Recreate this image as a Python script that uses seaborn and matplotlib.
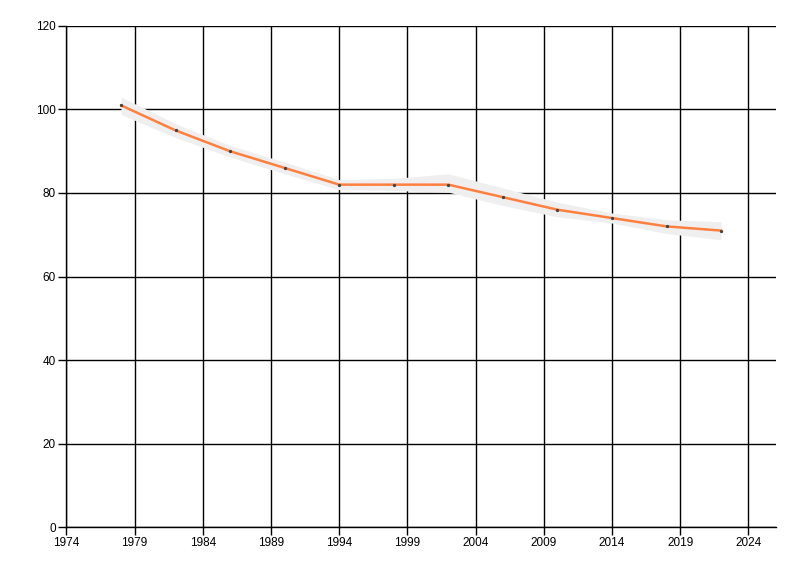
import numpy as np
import pandas as pd
import matplotlib
matplotlib.use("Agg")
import matplotlib.pyplot as plt
import seaborn as sns

# Values
years = [1978, 1982, 1986, 1990, 1994, 1998, 2002, 2006, 2010, 2014, 2018, 2022]
values = [101, 95, 90, 86, 82, 82, 82, 79, 76, 74, 72, 71]
band_low = [98.8, 93.3, 88.6, 84.6, 80.8, 80.6, 80.2, 77.0, 74.3, 72.8, 70.3, 68.8]
band_high = [103.0, 96.6, 91.4, 87.4, 83.2, 83.5, 84.6, 81.2, 77.8, 75.2, 73.6, 73.1]

x_ticks = list(range(1974, 2025, 5))
y_ticks = list(range(0, 121, 20))

df = pd.DataFrame({"year": years, "value": values})

sns.set_style("white")
plt.rcParams["font.family"] = ["Liberation Sans", "DejaVu Sans"]

fig = plt.figure(figsize=(8, 5.76), dpi=100)
ax = fig.add_axes([0.083, 0.085, 0.8866, 0.8699])

# shaded band behind the line
ax.fill_between(years, band_low, band_high, color="#efefef", linewidth=0, zorder=1)

sns.lineplot(data=df, x="year", y="value", ax=ax, color="#ff7f3f", linewidth=1.8,
             marker="o", markersize=1.6, markerfacecolor="#444444",
             markeredgecolor="#444444", zorder=3)

ax.set_xlim(1974, 2026)
ax.set_ylim(0, 120)
ax.set_xticks(x_ticks)
ax.set_yticks(y_ticks)
ax.grid(True, color="black", linewidth=1)
ax.set_axisbelow(True)
ax.set_xlabel("")
ax.set_ylabel("")

for side in ["top", "right"]:
    ax.spines[side].set_visible(False)
for side in ["left", "bottom"]:
    ax.spines[side].set_color("black")
    ax.spines[side].set_linewidth(1)

ax.tick_params(axis="both", which="major", direction="out", length=6, width=1,
               color="black", labelsize=8.5, labelcolor="black", pad=1.5,
               left=True, bottom=True)

fig.savefig("out.png", dpi=100)
